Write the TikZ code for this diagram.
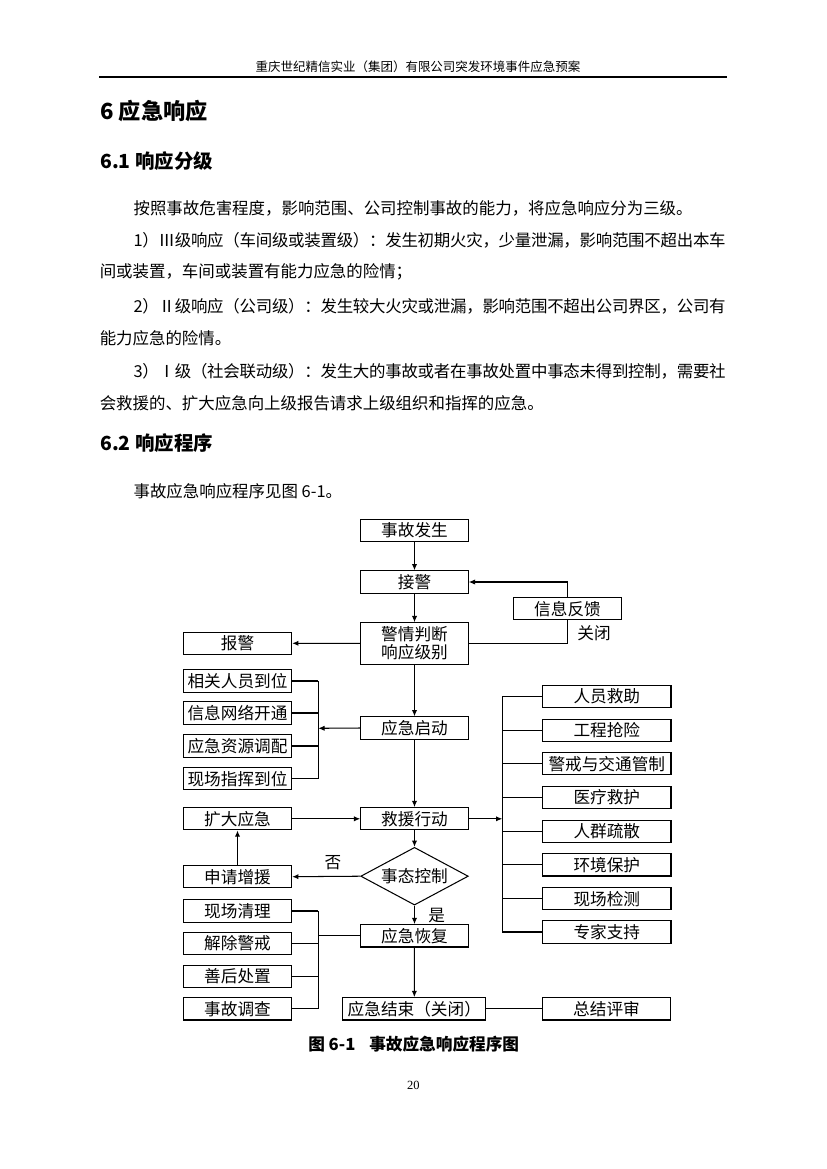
\documentclass[tikz,border=0pt]{standalone}
\usepackage{fontspec}
\setmainfont{Liberation Serif}
\newfontfamily\cjk{Noto Sans CJK SC}
\usetikzlibrary{shapes.geometric,arrows.meta,calc}
\def\spr#1{\ifx#1\relax\unskip\else#1\hskip0pt plus 2pt minus 1pt\expandafter\spr\fi}
\tikzset{
  body/.style={anchor=west,inner sep=0pt,font=\cjk\fontsize{11.85}{14}\selectfont},
  hone/.style={anchor=west,inner sep=0pt,font=\cjk\bfseries\fontsize{16}{18}\selectfont},
  htwo/.style={anchor=west,inner sep=0pt,font=\cjk\bfseries\fontsize{14}{16}\selectfont},
  box/.style={draw,line width=0.75pt,inner sep=0pt,minimum height=16.1pt,font=\cjk\fontsize{12}{13}\selectfont,align=center},
  mainbox/.style={box,minimum width=77.5pt},
  sidebox/.style={box,minimum width=78.1pt},
  rbox/.style={box,minimum width=92.5pt},
  lbl/.style={inner sep=0pt,font=\cjk\fontsize{12}{13}\selectfont},
  arr/.style={line width=0.75pt,-{Latex[length=4.5pt,width=3.8pt]}},
  ln/.style={line width=0.75pt},
}
\begin{document}
\begin{tikzpicture}[x=0.7207pt,y=-0.7207pt]
\fill[white] (0,0) rectangle (826,1169);
\useasboundingbox (0,0) rectangle (826,1169);
% header
\node[inner sep=0pt,font=\cjk\fontsize{9}{10}\selectfont] (hdr) at (418,67) {重庆世纪精信实业（集团）有限公司突发环境事件应急预案};
\draw[line width=0.9pt] (99,77) -- (727,77);
% headings and body
\node[hone] (h6) at (100,111.5) {6 应急响应};
\node[htwo] (h61) at (100,161.5) {6.1 响应分级};
\node[body] (p1) at (133.3,208.3) {按照事故危害程度，影响范围、公司控制事故的能力，将应急响应分为三级。};
\node[body] (p2) at (133.3,240) {\makebox[426.7pt][s]{\spr 1）Ⅲ级响应（车间级或装置级）：发生初期火灾，少量泄漏，影响范围不超出本车\relax}};
\node[body] (p3) at (99.5,271.7) {间或装置，车间或装置有能力应急的险情；};
\node[body] (p4) at (133.3,306.5) {\makebox[426.7pt][s]{\spr 2）Ⅱ级响应（公司级）：发生较大火灾或泄漏，影响范围不超出公司界区，公司有\relax}};
\node[body] (p5) at (99.5,338) {能力应急的险情。};
\node[body] (p6) at (133.3,371.5) {\makebox[426.7pt][s]{\spr 3）Ⅰ级（社会联动级）：发生大的事故或者在事故处置中事态未得到控制，需要社\relax}};
\node[body] (p7) at (99.5,403) {会救援的、扩大应急向上级报告请求上级组织和指挥的应急。};
\node[htwo] (h62) at (100,443) {6.2 响应程序};
\node[body] (p8) at (133.3,491.7) {事故应急响应程序见图 6-1。};
% flowchart main column
\node[mainbox] (occur) at (414.5,530.5) {事故发生};
\node[mainbox] (recv) at (414.5,582) {接警};
\node[mainbox,minimum height=29.8pt] (judge) at (414.5,643.4) {警情判断\\响应级别};
\node[sidebox] (alarm) at (237.5,643.3) {报警};
\node[sidebox] (fb) at (567.5,608.8) {信息反馈};
\node[lbl] (closelbl) at (594,633) {关闭};
\node[mainbox] (start) at (414.5,728) {应急启动};
\node[mainbox] (rescue) at (414.5,818.8) {救援行动};
\node[draw,diamond,line width=0.75pt,inner sep=0pt,aspect=1.86,minimum width=77.5pt,minimum height=41.6pt,font=\cjk\fontsize{12}{13}\selectfont] (ctrl) at (414.5,876.2) {事态控制};
\node[mainbox] (recover) at (414.5,935.8) {应急恢复};
\node[box,minimum width=103.3pt] (fin) at (414.3,1008.8) {应急结束（关闭）};
\node[rbox] (summ) at (606.5,1008.8) {总结评审};
% left groups
\node[sidebox] (l1) at (237.5,681) {相关人员到位};
\node[sidebox] (l2) at (237.5,713) {信息网络开通};
\node[sidebox] (l3) at (237.5,746) {应急资源调配};
\node[sidebox] (l4) at (237.5,778.7) {现场指挥到位};
\node[sidebox] (expand) at (237.5,818.8) {扩大应急};
\node[sidebox] (req) at (237.5,876.7) {申请增援};
\node[sidebox] (m1) at (237.5,911) {现场清理};
\node[sidebox] (m2) at (237.5,943.3) {解除警戒};
\node[sidebox] (m3) at (237.5,976.2) {善后处置};
\node[sidebox] (m4) at (237.5,1008.8) {事故调查};
% right group
\node[rbox] (r1) at (606.8,696.2) {人员救助};
\node[rbox] (r2) at (606.8,730.2) {工程抢险};
\node[rbox] (r3) at (606.8,763.8) {警戒与交通管制};
\node[rbox] (r4) at (606.8,797.5) {医疗救护};
\node[rbox] (r5) at (606.8,831.2) {人群疏散};
\node[rbox] (r6) at (606.8,864.8) {环境保护};
\node[rbox] (r7) at (606.8,898.7) {现场检测};
\node[rbox] (r8) at (606.8,932) {专家支持};
% labels
\node[lbl] (nolbl) at (333,863) {否};
\node[lbl] (yeslbl) at (436.7,916) {是};
% bracket coordinates
\coordinate (bl1) at (318.3,728.3);
\coordinate (bl2) at (318.3,935.8);
\coordinate (br) at (502.3,818.8);
% connectors main
\draw[arr] (occur) -- (recv);
\draw[arr] (recv) -- (judge);
\draw[arr] (judge) -- (start);
\draw[arr] (start) -- (rescue);
\draw[arr] (rescue) -- (ctrl);
\draw[arr] (ctrl) -- (recover);
\draw[arr] (recover) -- (fin);
\draw[arr] (judge.west) -- (alarm.east);
\draw[ln] (judge.east) -- (judge.east -| fb.south) -- (fb.south);
\draw[arr] (fb.north) -- (fb.north |- recv.east) -- (recv.east);
\draw[arr] (start.west) -- (bl1);
\draw[ln] (l1.east -| bl1) -- (l4.east -| bl1);
\foreach \n in {l1,l2,l3,l4} \draw[ln] (\n.east) -- (\n.east -| bl1);
\draw[arr] (expand.east) -- (rescue.west);
\draw[arr] (ctrl.west) -- (req.east);
\draw[arr] (req.north) -- (expand.south);
\draw[ln] (recover.west) -- (bl2);
\draw[ln] (m1.east -| bl2) -- (m4.east -| bl2);
\foreach \n in {m1,m2,m3,m4} \draw[ln] (\n.east) -- (\n.east -| bl2);
\draw[arr] (rescue.east) -- (br);
\draw[ln] (r1.west -| br) -- (r8.west -| br);
\foreach \n in {r1,r2,r3,r4,r5,r6,r7,r8} \draw[ln] (\n.west -| br) -- (\n.west);
\draw[ln] (fin.east) -- (summ.west);
% caption and page number
\node[anchor=west,inner sep=0pt,font=\cjk\bfseries\fontsize{12}{13}\selectfont] (cap1) at (308,1044) {图 6-1};
\node[anchor=west,inner sep=0pt,font=\cjk\bfseries\fontsize{12}{13}\selectfont] (cap2) at (369,1044) {事故应急响应程序图};
\node[inner sep=0pt,font=\fontsize{9}{10}\selectfont] (pg) at (413.3,1085.5) {20};
\end{tikzpicture}
\end{document}
